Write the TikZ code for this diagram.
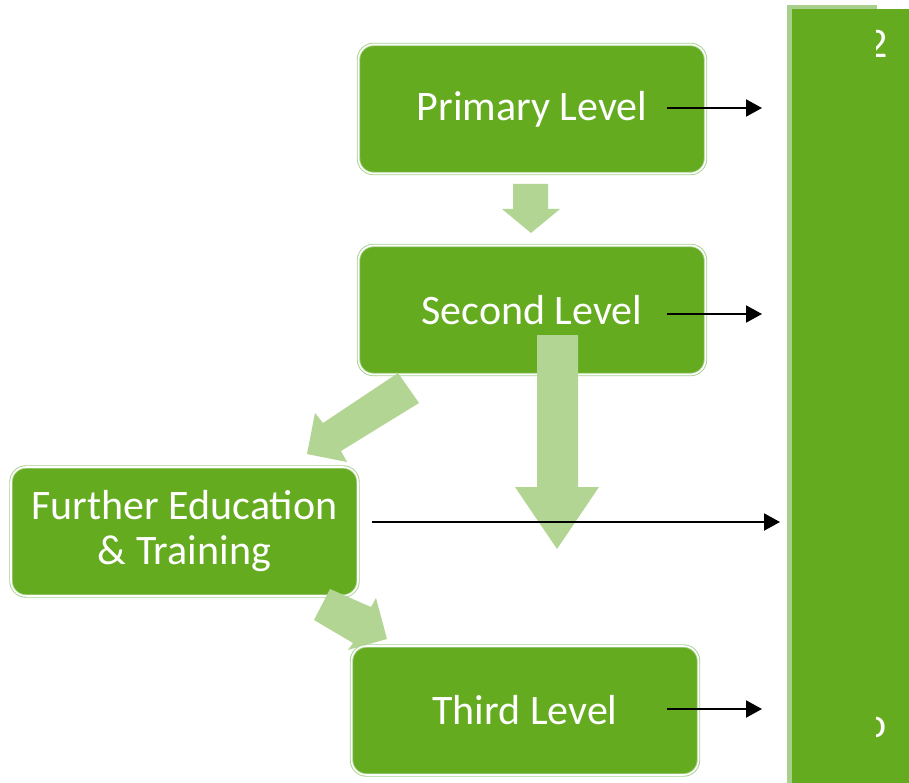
\documentclass[tikz,border=0pt]{standalone}
\usepackage{fontspec}
\setmainfont{Carlito}
\usetikzlibrary{arrows.meta}
\definecolor{boxgreen}{HTML}{65AB1F}
\definecolor{arrowgreen}{HTML}{B2D593}
\definecolor{edgegreen}{HTML}{A8D08D}
\tikzset{
  levelbox/.style={rounded corners=15pt, fill=boxgreen, draw=edgegreen, double=white,
    double distance=1.6pt, line width=0.9pt, minimum width=347pt, minimum height=129pt,
    text=white, font=\fontsize{42}{45}\selectfont, align=center, inner sep=0pt},
  bigarrow/.style={fill=arrowgreen, draw=none},
  link/.style={black, line width=2pt, -{Triangle[length=16pt,width=17pt]}},
  frag/.style={text=white, font=\fontsize{42}{45}\selectfont, inner sep=0pt, anchor=base}
}
\begin{document}
\begin{tikzpicture}[x=1pt,y=-1pt]
\useasboundingbox (0,0) rectangle (909,783);
% level boxes
\node[levelbox] (primary) at (532,109) {Primary Level};
\node[levelbox] (second) at (532,310) {Second Level};
\node[levelbox] (further) at (184.5,531.5) {Further Education\\\& Training};
% big arrows
\fill[bigarrow] (513,184) -- (548,184) -- (548,209) -- (560,209) -- (531,233) -- (502,209) -- (513,209) -- cycle;
\fill[bigarrow] (537,335) -- (578,335) -- (578,487) -- (599,487) -- (557,549) -- (515,487) -- (537,487) -- cycle;
\fill[bigarrow] (398,373) -- (419,403) -- (341,451) -- (347,462) -- (307,454) -- (315,413) -- (323,423) -- cycle;
\fill[bigarrow] (330,589) -- (371,607) -- (376,598) -- (387,639) -- (348,650) -- (353,643) -- (314,620) -- cycle;
\node[levelbox] (third) at (525,710.5) {Third Level};
% right column
\fill[boxgreen] (790,9) rectangle (920,800);
\draw[edgegreen, line width=4.5pt] (789.7,800) -- (789.7,7) -- (877,7);
\begin{scope}
\clip (876,0) rectangle (909,783);
\node[frag] (fragtwo) at (877,58) {2};
\node[frag] (frago) at (876,737) {o};
\end{scope}
% connectors
\coordinate (pend) at (762,108);
\coordinate (send) at (762,314);
\coordinate (fend) at (780,522);
\coordinate (tend) at (762,709);
\coordinate (pstart) at (667,108);
\coordinate (sstart) at (667,314);
\coordinate (fstart) at (372,522);
\coordinate (tstart) at (667,709);
\draw[link] (pstart) -- (pend);
\draw[link] (sstart) -- (send);
\draw[link] (fstart) -- (fend);
\draw[link] (tstart) -- (tend);
\end{tikzpicture}
\end{document}
